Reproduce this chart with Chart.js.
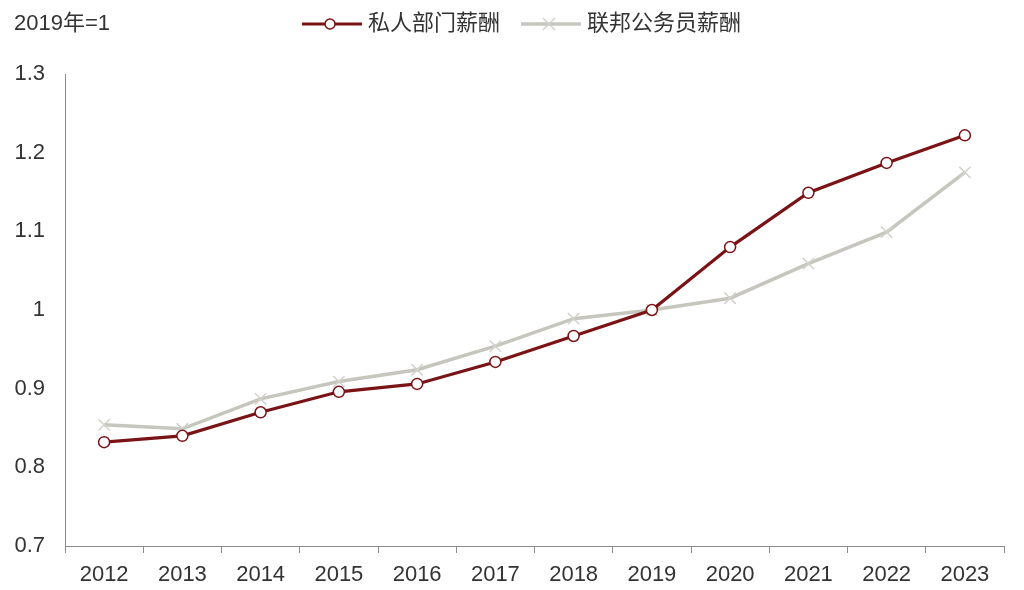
<!DOCTYPE html>
<html><head><meta charset="utf-8">
<script src="https://cdn.jsdelivr.net/npm/chart.js@4"></script>
<style>
html,body{margin:0;padding:0;background:#fff;}
#wrap{position:relative;width:1024px;height:590px;}
#unit{position:absolute;left:14px;top:4px;font:22px "Liberation Sans","Noto Sans CJK SC",sans-serif;color:#333;white-space:nowrap;}
</style></head><body>
<div id="wrap"><canvas id="c"></canvas><div id="unit">2019年=1</div></div>
<script>
const categories = ['2012','2013','2014','2015','2016','2017','2018','2019','2020','2021','2022','2023'];
const privatePay = [0.832,0.840,0.870,0.896,0.906,0.934,0.967,1.000,1.080,1.149,1.187,1.222];
const federalPay = [0.854,0.849,0.887,0.909,0.924,0.954,0.989,1.000,1.015,1.059,1.099,1.175];
const seriesNames = ['私人部门薪酬','联邦公务员薪酬'];
const yTickValues = [0.7,0.8,0.9,1.0,1.1,1.2,1.3];

const RED = '#7a1315';
const GRAY = '#c6c6be';
const FONT = "'Liberation Sans','Noto Sans CJK SC',sans-serif";

function legendImage(color, style) {
  const cv = document.createElement('canvas');
  cv.width = 60; cv.height = 16;
  const g = cv.getContext('2d');
  g.strokeStyle = color; g.lineWidth = style === 'circle' ? 3 : 3.5;
  g.beginPath(); g.moveTo(0, 8); g.lineTo(60, 8); g.stroke();
  if (style === 'circle') {
    g.fillStyle = '#fff'; g.lineWidth = 1.5;
    g.beginPath(); g.arc(28, 8, 5, 0, Math.PI * 2); g.fill(); g.stroke();
  } else {
    g.lineWidth = 1.5; g.strokeStyle = '#d2d2ca';
    g.beginPath(); g.moveTo(22, 2); g.lineTo(34, 14); g.moveTo(34, 2); g.lineTo(22, 14); g.stroke();
  }
  return cv;
}
const legendImgs = [legendImage(RED, 'circle'), legendImage(GRAY, 'cross')];

const legendTweak = {
  id: 'legendTweak',
  beforeInit(chart) {
    const lg = chart.legend;
    const fit = lg.fit;
    lg.fit = function () { fit.call(this); this.height += 16; };
  },
  afterLayout(chart) {
    const lg = chart.legend;
    const dy = 13, dx = 22;
    lg.top -= dy; lg.bottom -= dy; lg.left += dx; lg.right += dx;
  }
};

new Chart(document.getElementById('c'), {
  type: 'line',
  data: {
    labels: categories,
    datasets: [
      {
        label: seriesNames[0], data: privatePay,
        borderColor: RED, borderWidth: 3.2,
        pointStyle: 'circle', pointRadius: 5.5, pointBorderWidth: 1.5,
        pointBackgroundColor: '#fff', pointBorderColor: RED,
        tension: 0, order: 1
      },
      {
        label: seriesNames[1], data: federalPay,
        borderColor: GRAY, borderWidth: 3.5,
        pointStyle: 'crossRot', pointRadius: 8, pointBorderWidth: 1.5,
        pointBackgroundColor: '#d2d2ca', pointBorderColor: '#d2d2ca',
        tension: 0, order: 2
      }
    ]
  },
  options: {
    responsive: true, maintainAspectRatio: false, animation: false,
    layout: { padding: { top: 0, right: 20, bottom: -7, left: 0 } },
    plugins: {
      tooltip: { enabled: false },
      title: { display: false },
      legend: {
        position: 'top', align: 'center',
        labels: {
          usePointStyle: true, pointStyleWidth: 50, padding: 26,
          color: '#333', font: { family: FONT, size: 22 },
          generateLabels(chart) {
            return chart.data.datasets.map((ds, i) => ({
              text: ds.label, pointStyle: legendImgs[i], datasetIndex: i,
              fontColor: '#333', hidden: false, lineWidth: 0
            }));
          }
        }
      }
    },
    scales: {
      x: {
        type: 'category', offset: true,
        grid: { display: true, drawOnChartArea: false, drawTicks: true, tickLength: 7, offset: true, color: '#8c8c8c' },
        border: { display: true, color: '#8c8c8c', width: 1 },
        ticks: { color: '#333', font: { family: FONT, size: 22, lineHeight: 1 }, padding: 11, maxRotation: 0, autoSkip: false }
      },
      y: {
        min: 0.7, max: 1.3,
        afterBuildTicks(scale) { scale.ticks = yTickValues.map(v => ({ value: v })); },
        afterFit(scale) { scale.width = 65; },
        grid: { display: true, drawOnChartArea: false, drawTicks: false },
        border: { display: true, color: '#8c8c8c', width: 1 },
        ticks: {
          color: '#333', font: { family: FONT, size: 22 }, padding: 20,
          callback: v => String(Number(v.toFixed(1)))
        }
      }
    }
  },
  plugins: [legendTweak]
});
</script>
</body></html>
